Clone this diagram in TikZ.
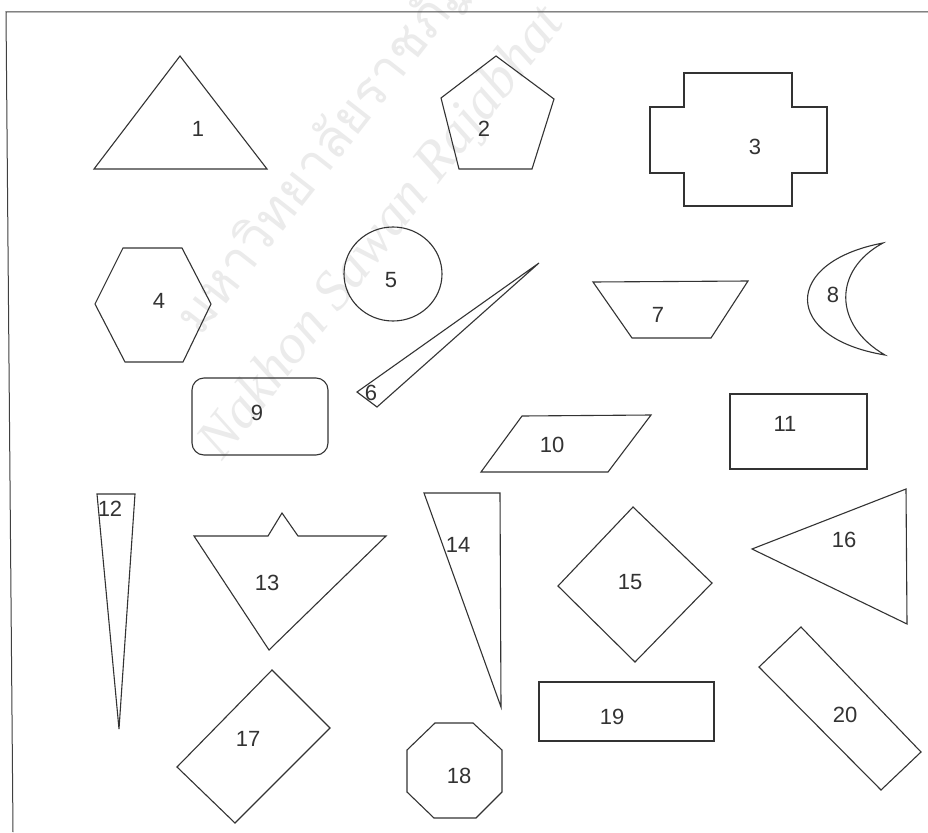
\documentclass[tikz,border=0pt]{standalone}
\usepackage{fontspec}
\setmainfont{Liberation Sans}
\newfontfamily\thaifont[Script=Thai]{Loma}
\newfontfamily\wmfont{Liberation Serif}
\begin{document}
\begin{tikzpicture}[x=1pt,y=-1pt,
  shp/.style={draw=black!80,line width=1.1pt,line join=miter},
  lbl/.style={inner sep=0pt,font=\fontsize{22}{24}\selectfont,text=black!80},
  wm/.style={inner sep=0pt,text=black!8,rotate=52,anchor=base west}]
\useasboundingbox (0,0) rectangle (928,832);
\fill[white] (0,0) rectangle (928,832);
% watermark
\node[wm,font=\thaifont\fontsize{52}{56}\selectfont] (wmth) at (200,338) {มหาวิทยาลัยราชภัฏ};
\node[wm,font=\wmfont\itshape\fontsize{56}{60}\selectfont] (wmen) at (222,462) {Nakhon Sawan Rajabhat};
% frame
\draw[black!75,line width=1pt] (928,12) -- (6,12) -- (13,832);
% 1 triangle
\draw[shp] (180,56) -- (267,169) -- (94,169) -- cycle;
\node[lbl] (l1) at (198,129) {1};
% 2 pentagon
\draw[shp] (496,56) -- (554,99) -- (532,169) -- (459,169) -- (441,98) -- cycle;
\node[lbl] (l2) at (484,129) {2};
% 3 cross
\draw[shp] (684,73) -- (792,73) -- (792,107) -- (827,107) -- (827,173) -- (792,173) -- (792,206) -- (684,206) -- (684,173) -- (650,173) -- (650,107) -- (684,107) -- cycle;
\node[lbl] (l3) at (755,147) {3};
% 4 hexagon
\draw[shp] (123,248) -- (182,248) -- (211,304) -- (183,362) -- (125,362) -- (95,304) -- cycle;
\node[lbl] (l4) at (159,301) {4};
% 5 circle
\draw[shp] (393,274) ellipse [x radius=49, y radius=47];
\node[lbl] (l5) at (391,280) {5};
% 6 thin triangle
\draw[shp] (539,263) -- (357,392) -- (377,407) -- cycle;
\node[lbl] (l6) at (371,393) {6};
% 7 trapezoid
\draw[shp] (593,282) -- (748,281) -- (711,338) -- (632,338) -- cycle;
\node[lbl] (l7) at (658,315) {7};
% 8 crescent
\draw[shp] (883,243) .. controls (782,262) and (782,338) .. (885,355)
   .. controls (833,325) and (833,270) .. cycle;
\node[lbl] (l8) at (833,295) {8};
% 9 rounded rectangle
\draw[shp,rounded corners=12pt] (192,378) rectangle (328,455);
\node[lbl] (l9) at (257,413) {9};
% 10 parallelogram
\draw[shp] (522,416) -- (651,415) -- (608,472) -- (481,472) -- cycle;
\node[lbl] (l10) at (552,445) {10};
% 11 rectangle
\draw[shp] (730,394) rectangle (867,469);
\node[lbl] (l11) at (785,424) {11};
% 12 thin triangle
\draw[shp] (97,494) -- (135,494) -- (119,729) -- cycle;
\node[lbl] (l12) at (110,509) {12};
% 13 triangle with notch
\draw[shp] (194,536) -- (268,536) -- (282,513) -- (298,536) -- (386,536) -- (269,650) -- cycle;
\node[lbl] (l13) at (267,583) {13};
% 14 triangle
\draw[shp] (424,493) -- (500,493) -- (501,707) -- cycle;
\node[lbl] (l14) at (458,545) {14};
% 15 diamond
\draw[shp] (633,507) -- (712,583) -- (635,662) -- (558,586) -- cycle;
\node[lbl] (l15) at (630,582) {15};
% 16 triangle
\draw[shp] (906,489) -- (907,624) -- (752,549) -- cycle;
\node[lbl] (l16) at (844,540) {16};
% 17 rotated rectangle
\draw[shp] (272,670) -- (330,728) -- (235,823) -- (177,767) -- cycle;
\node[lbl] (l17) at (248,739) {17};
% 18 octagon
\draw[shp] (435,723) -- (473,723) -- (502,750) -- (502,792) -- (476,818) -- (434,818) -- (407,792) -- (407,750) -- cycle;
\node[lbl] (l18) at (459,776) {18};
% 19 rectangle
\draw[shp] (539,682) rectangle (714,741);
\node[lbl] (l19) at (612,717) {19};
% 20 rotated rectangle
\draw[shp] (801,627) -- (921,752) -- (881,790) -- (759,667) -- cycle;
\node[lbl] (l20) at (845,715) {20};
\end{tikzpicture}
\end{document}
